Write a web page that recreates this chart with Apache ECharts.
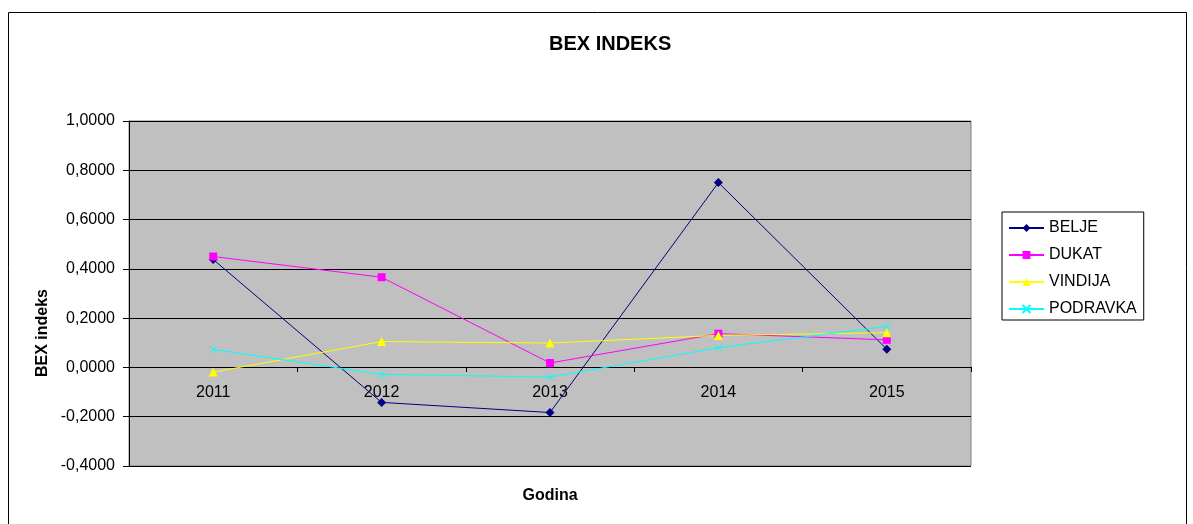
<!DOCTYPE html>
<html>
<head>
<meta charset="utf-8">
<script src="https://cdn.jsdelivr.net/npm/echarts@6/dist/echarts.min.js"></script>
<style>
  html, body { margin: 0; padding: 0; background: #fff; }
  #chart { width: 1193px; height: 524px; }
</style>
</head>
<body>
<div id="chart"></div>
<script>
  // godine
  let years = ['2011', '2012', '2013', '2014', '2015']
  let belje = [0.438, -0.142, -0.183, 0.750, 0.074]
  let dukat = [0.450, 0.366, 0.018, 0.137, 0.112]
  let vindija = [-0.019, 0.105, 0.099, 0.130, 0.141]
  let podravka = [0.073, -0.028, -0.039, 0.080, 0.166]

  let font = 'Liberation Sans, Arial, sans-serif'
  let crossPath = 'path://M0,0 L10,10 M10,0 L0,10'

  function mkSeries(name, data, color, symbol, size) {
    return {
      name: name,
      type: 'line',
      data: data,
      symbol: symbol,
      symbolSize: size,
      showSymbol: true,
      lineStyle: { color: color, width: 1 },
      itemStyle: { color: color, borderColor: color, borderWidth: symbol === crossPath ? 1 : 0 },
      animation: false
    }
  }

  let myChart = echarts.init(document.getElementById('chart'))
  let option = {
    textStyle: { fontFamily: font },
    title: {
      text: 'BEX INDEKS',
      left: 544,
      top: 29,
      textStyle: { fontSize: 20, fontWeight: 'bold', color: '#000', fontFamily: font }
    },
    graphic: [{
      type: 'rect',
      shape: { x: 8.5, y: 12.5, width: 1178, height: 520 },
      style: { fill: null, stroke: '#000', lineWidth: 1 },
      silent: true
    }, {
      // naziv y osi
      type: 'text',
      x: 43,
      y: 333,
      rotation: Math.PI / 2,
      style: {
        text: 'BEX indeks',
        fontSize: 16,
        fontWeight: 'bold',
        fontFamily: font,
        fill: '#000',
        align: 'center',
        verticalAlign: 'middle'
      },
      silent: true
    }],
    legend: {
      orient: 'vertical',
      left: 1002,
      top: 212,
      padding: [8, 7, 3, 6],
      itemGap: 11,
      itemWidth: 35,
      itemHeight: 10,
      backgroundColor: '#fff',
      borderColor: '#000',
      borderWidth: 1,
      borderRadius: 0,
      textStyle: { fontSize: 16, color: '#000', fontFamily: font },
      data: ['BELJE', 'DUKAT', 'VINDIJA', 'PODRAVKA']
    },
    grid: {
      left: 129,
      top: 121,
      width: 842,
      height: 345,
      show: true,
      backgroundColor: '#c0c0c0',
      borderColor: '#808080',
      borderWidth: 1,
      outerBoundsMode: 'none',
      containLabel: false
    },
    xAxis: {
      type: 'category',
      data: years,
      boundaryGap: true,
      offset: -99,
      name: 'Godina',
      nameLocation: 'middle',
      nameGap: 121,
      nameTextStyle: { fontSize: 16, fontWeight: 'bold', color: '#000', fontFamily: font },
      axisLine: { onZero: false, lineStyle: { color: '#000', width: 1 } },
      axisTick: { show: true, interval: 0, length: 5, lineStyle: { color: '#000' } },
      axisLabel: { fontSize: 16, color: '#000', margin: 18, fontFamily: font },
      splitLine: { show: false }
    },
    yAxis: {
      type: 'value',
      min: -0.4,
      max: 1.0,
      interval: 0.2,
      axisLine: { show: true, lineStyle: { color: '#000', width: 1 } },
      axisTick: { show: true, length: 6, lineStyle: { color: '#000' } },
      axisLabel: {
        fontSize: 16,
        color: '#000',
        margin: 14,
        fontFamily: font,
        formatter: function (v) {
          return v.toFixed(4).replace('.', ',')
        }
      },
      splitLine: { show: true, lineStyle: { color: '#000', width: 1 } }
    },
    series: [
      mkSeries('BELJE', belje, '#000080', 'diamond', 9),
      mkSeries('DUKAT', dukat, '#ff00ff', 'rect', 8),
      mkSeries('VINDIJA', vindija, '#ffff00', 'triangle', 9),
      mkSeries('PODRAVKA', podravka, '#00ffff', crossPath, 7)
    ]
  }
  myChart.setOption(option)
</script>
</body>
</html>
